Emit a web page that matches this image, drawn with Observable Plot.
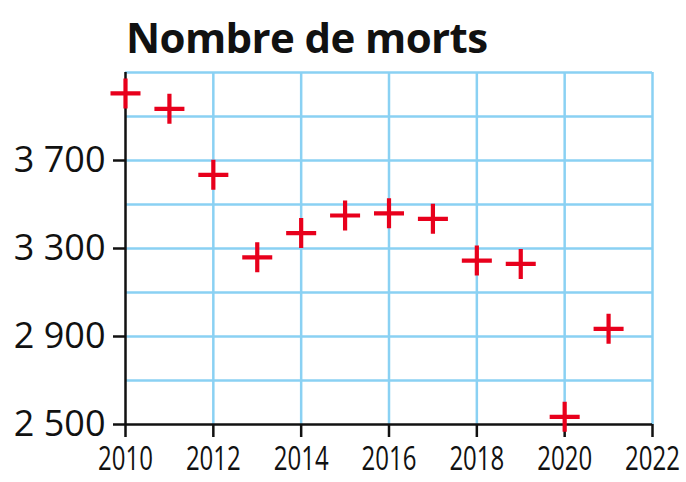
<!DOCTYPE html>
<html>
<head>
<meta charset="utf-8">
<script src="https://cdn.jsdelivr.net/npm/d3@7"></script>
<script src="https://cdn.jsdelivr.net/npm/@observablehq/plot@0.6"></script>
<style>
  html, body { margin: 0; padding: 0; background: #fff; }
  #wrap { position: relative; width: 686px; height: 482px; overflow: hidden; }
  #title { position: absolute; left: 126px; top: 16px; font-family: "Open Sans", sans-serif; font-weight: 700; font-size: 42px; line-height: 1; color: #111; letter-spacing: -0.6px; white-space: nowrap; }
  #chart { position: absolute; left: 0; top: 62px; }
</style>
</head>
<body>
<div id="wrap">
  <div id="title">Nombre de morts</div>
  <div id="chart"></div>
</div>
<script>
const years = [2010, 2011, 2012, 2013, 2014, 2015, 2016, 2017, 2018, 2019, 2020, 2021];
const deaths = [4005, 3935, 3635, 3260, 3370, 3450, 3460, 3435, 3245, 3230, 2535, 2935];
const yTicks = [2500, 2900, 3300, 3700];
const yGridLines = [2700, 2900, 3100, 3300, 3500, 3700, 3900, 4100];
const xTicks = [2010, 2012, 2014, 2016, 2018, 2020, 2022];
const xGridLines = [2012, 2014, 2016, 2018, 2020, 2022];

const data = years.map((y, i) => ({year: y, value: deaths[i]}));
const fmt = d => d3.format(",")(d).replace(",", " ");

const grid = "#8ad1f3";
const plot = Plot.plot({
  width: 686,
  height: 420,
  marginLeft: 125,
  marginRight: 34,
  marginTop: 10,
  marginBottom: 58,
  x: {domain: [2010, 2022], axis: null},
  y: {domain: [2500, 4100], axis: null},
  marks: [
    Plot.gridY(yGridLines, {stroke: grid, strokeOpacity: 1, strokeWidth: 2.5}),
    Plot.gridX(xGridLines, {stroke: grid, strokeOpacity: 1, strokeWidth: 2.5}),
    Plot.ruleX([2010], {stroke: "#111", strokeWidth: 2.5}),
    Plot.ruleY([2500], {stroke: "#111", strokeWidth: 2.5}),
    Plot.axisY(yTicks, {anchor: "left", tickFormat: fmt, tickSize: 12, tickPadding: 8, strokeWidth: 2.5, stroke: "#111", fontSize: 36, fontFamily: "Open Sans", fill: "#111", label: null}),
    Plot.axisX(xTicks, {anchor: "bottom", tickFormat: d => String(d), tickSize: 13, tickPadding: 10, strokeWidth: 2.5, stroke: "#111", fontSize: 32, fontFamily: "Open Sans", fill: "#111", label: null}),
    Plot.dot(data, {x: "year", y: "value", symbol: "plus", r: 9.7, stroke: "#e8001c", strokeWidth: 4.2})
  ]
});
plot.querySelectorAll("g[aria-label='x-axis tick label'] text").forEach(t => {
  const tr = t.getAttribute("transform") || "";
  t.setAttribute("transform", tr + " scale(0.75,1)");
});
document.getElementById("chart").appendChild(plot);
</script>
</body>
</html>
